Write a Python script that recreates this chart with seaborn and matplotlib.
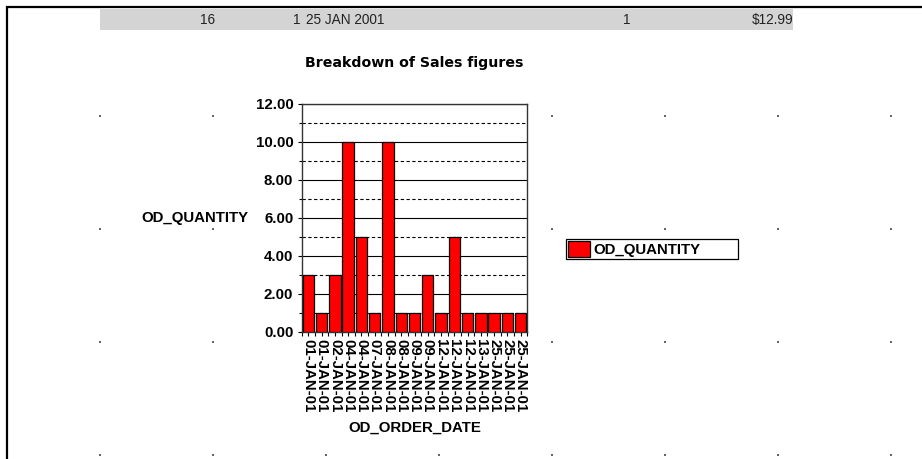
import numpy as np
import pandas as pd
import matplotlib
matplotlib.use("Agg")
import matplotlib.pyplot as plt
import seaborn as sns
from matplotlib.patches import Rectangle
from matplotlib.ticker import FixedLocator, FormatStrFormatter

# ---- data -------------------------------------------------------------
order_dates = ["01-JAN-01", "01-JAN-01", "02-JAN-01", "04-JAN-01", "04-JAN-01",
               "07-JAN-01", "08-JAN-01", "08-JAN-01", "09-JAN-01", "09-JAN-01",
               "12-JAN-01", "12-JAN-01", "12-JAN-01", "13-JAN-01", "25-JAN-01",
               "25-JAN-01", "25-JAN-01"]
quantities = [3, 1, 3, 10, 5, 1, 10, 1, 1, 3, 1, 5, 1, 1, 1, 1, 1]
y_major = [0, 2, 4, 6, 8, 10, 12]
y_minor = [1, 3, 5, 7, 9, 11]
header_values = ["16", "1", "25 JAN 2001", "1", "$12.99"]

# ---- styling ----------------------------------------------------------
sns.set_theme(style="white")
plt.rcParams["font.family"] = ["Liberation Sans", "DejaVu Sans"]
plt.rcParams.update({"text.color": "black", "axes.labelcolor": "black",
                     "xtick.color": "black", "ytick.color": "black"})
FS = 10.8

W, H = 922, 459
fig = plt.figure(figsize=(W / 100, H / 100), dpi=100)
fig.patch.set_facecolor("white")

# page layer in pixel coordinates (report frame, header row, layout dots)
page = fig.add_axes([0, 0, 1, 1], zorder=0)
page.set_xlim(0, W)
page.set_ylim(H, 0)
page.axis("off")
page.plot([7, 7], [6, H], color="black", lw=1.6, solid_capstyle="butt")
page.plot([6, W], [7, 7], color="black", lw=1.6, solid_capstyle="butt")
page.add_patch(Rectangle((100, 9), 693, 21, facecolor="#d4d4d4", edgecolor="none"))

header_x = [215, 300, 306, 630, 793]
header_ha = ["right", "right", "left", "right", "right"]
for txt, x, ha in zip(header_values, header_x, header_ha):
    page.text(x, 20, txt, ha=ha, va="center", fontsize=9.8, color="#222222",
              family=["Liberation Sans Narrow", "Liberation Sans", "DejaVu Sans"])

dot_x = [100, 213, 326, 439, 552, 665, 778, 891]
dot_y = [116, 229, 342, 455]
gx, gy = np.meshgrid(dot_x, dot_y)
page.scatter(gx.ravel(), gy.ravel(), s=1.2, color="#666666", marker="s", linewidths=0)

# ---- chart ------------------------------------------------------------
ax_left, ax_right, ax_top, ax_bot = 301.7, 527.3, 103.7, 331.7
ax = fig.add_axes([ax_left / W, (H - ax_bot) / H,
                   (ax_right - ax_left) / W, (ax_bot - ax_top) / H], zorder=2)
ax.set_facecolor("white")

df = pd.DataFrame({"slot": np.arange(len(quantities)), "qty": quantities})
sns.barplot(data=df, x="slot", y="qty", color="#ff0000", saturation=1,
            width=0.86, edgecolor="black", linewidth=0.9, ax=ax,
            label="OD_QUANTITY", zorder=3)

ax.set_ylim(0, 12)
ax.set_xlim(-0.5, len(quantities) - 0.5)
ax.yaxis.set_major_locator(FixedLocator(y_major))
ax.yaxis.set_minor_locator(FixedLocator(y_minor))
ax.yaxis.set_major_formatter(FormatStrFormatter("%.2f"))
ax.set_xticks(np.arange(len(quantities)))
ax.xaxis.set_minor_locator(FixedLocator(np.arange(len(quantities) + 1) - 0.5))
ax.set_xticklabels(order_dates, rotation=-90, ha="center", va="top",
                   fontweight="bold", fontsize=FS, color="black")
for lab in ax.get_yticklabels():
    lab.set_fontweight("bold")
    lab.set_fontsize(FS)
    lab.set_color("black")

ax.grid(axis="y", which="major", color="black", lw=0.8, zorder=0)
ax.grid(axis="y", which="minor", color="black", lw=0.8, ls=(0, (3, 2.2)), zorder=0)
ax.grid(axis="x", visible=False)
ax.set_axisbelow(True)

ax.tick_params(axis="both", which="both", direction="out", color="black",
               labelcolor="black", width=0.8, length=3, pad=2)
ax.tick_params(axis="y", which="major", left=True, pad=3)
ax.tick_params(axis="y", which="minor", left=True, length=2)
ax.tick_params(axis="x", which="both", bottom=True)
for sp in ax.spines.values():
    sp.set_color("#333333")
    sp.set_linewidth(1.0)

ax.set_title("Breakdown of Sales figures", fontsize=10.2, fontweight="bold",
             family=["DejaVu Sans"], color="black",
             y=1 + (ax_top - 63) / (ax_bot - ax_top), va="center", pad=0)
ax.set_ylabel("OD_QUANTITY", rotation=0, fontsize=FS, fontweight="bold",
              ha="right", va="center", color="black")
ax.yaxis.set_label_coords((248 - ax_left) / (ax_right - ax_left), 0.5)
ax.set_xlabel("OD_ORDER_DATE", fontsize=FS, fontweight="bold", va="center",
              color="black")
ax.xaxis.set_label_coords(0.5, (ax_bot - 428) / (ax_bot - ax_top))

handles, labels = ax.get_legend_handles_labels()
leg = ax.legend(handles[:1], labels[:1], loc="center", mode="expand",
                bbox_to_anchor=(566 / W, (H - 262) / H, 172 / W, 26 / H),
                bbox_transform=fig.transFigure, frameon=True, fancybox=False,
                edgecolor="black", framealpha=1, borderpad=0.12,
                handlelength=1.45, handleheight=1.3, handletextpad=0.25,
                borderaxespad=0, labelcolor="black",
                prop={"weight": "bold", "size": FS})
leg.get_frame().set_linewidth(0.9)

fig.savefig("out.png", dpi=100)
